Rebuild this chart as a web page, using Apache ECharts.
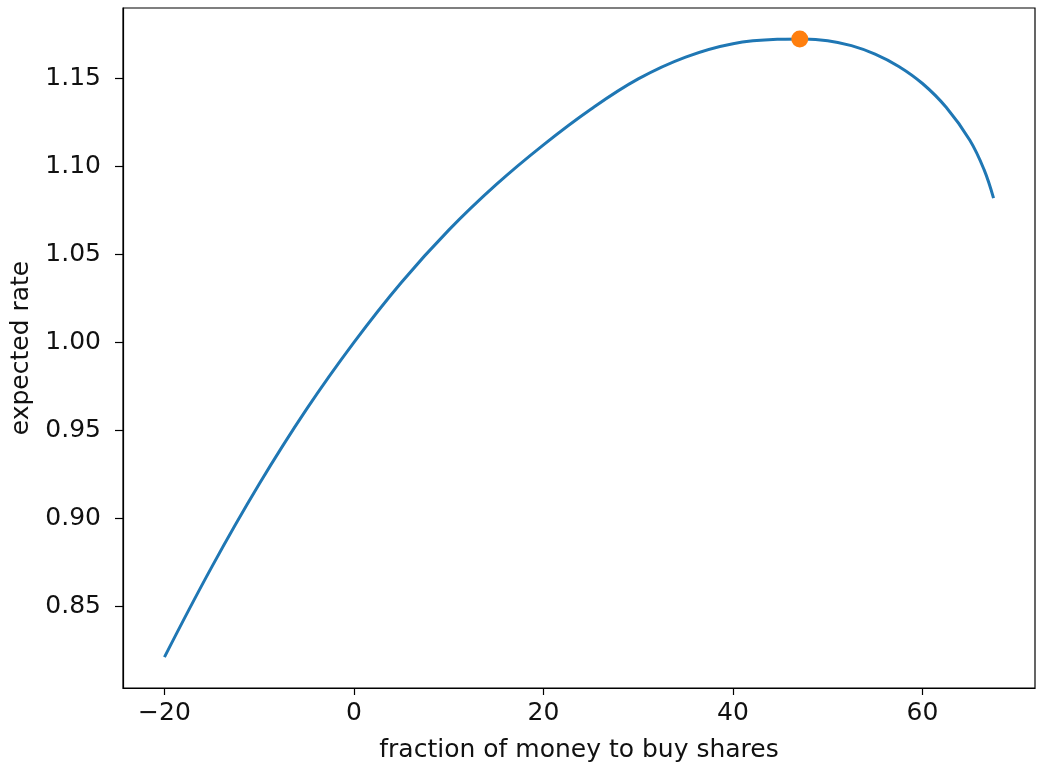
<!DOCTYPE html>
<html>
<head>
<meta charset="utf-8">
<script src="https://cdn.jsdelivr.net/npm/echarts@6/dist/echarts.min.js"></script>
<style>
  html, body { margin: 0; padding: 0; background: #fff; }
  #chart { width: 1042px; height: 768px; }
</style>
</head>
<body>
<div id="chart"></div>
<script>
// Expected growth rate as a function of the share of money put into stock (%)
const fractionPct = [
  -20, -15, -10, -5, 0, 5, 10, 15, 20, 25, 30, 35, 40, 45,
  47.5, 50, 52.5, 55, 57.5, 60, 62.5, 65, 66.5, 67.5
];
const expectedRate = [
  0.8214, 0.8726, 0.9196, 0.9621, 1.0000, 1.0340, 1.0637, 1.0895, 1.1121, 1.1323,
  1.1495, 1.1619, 1.1695, 1.1720,
  1.1722, 1.1712, 1.1684, 1.1636, 1.1566, 1.1469, 1.1334, 1.1147, 1.0980, 1.0818
];
// Best fraction (maximum of the curve)
const optimumPct = [47.05];
const optimumRate = [1.1722];

const xTicks = [-20, 0, 20, 40, 60];
const yTicks = [0.85, 0.90, 0.95, 1.00, 1.05, 1.10, 1.15];

// 5% padding around the data extent on both axes
function padded(arr) {
  const lo = Math.min(...arr), hi = Math.max(...arr), m = (hi - lo) * 0.05;
  return [lo - m, hi + m];
}
const [xMin, xMax] = padded(fractionPct);
const [yMin, yMax] = padded(expectedRate);

const FONT = 'DejaVu Sans';
const FS = 25;
const INK = '#111';

const chart = echarts.init(document.getElementById('chart'), null, { renderer: 'canvas' });
chart.setOption({
  animation: false,
  backgroundColor: '#fff',
  grid: {
    left: 123, right: 7, top: 8, bottom: 80,
    show: true, borderColor: '#000', borderWidth: 1.2, backgroundColor: 'transparent'
  },
  xAxis: {
    type: 'value',
    min: xMin, max: xMax,
    name: 'fraction of money to buy shares',
    nameLocation: 'middle',
    nameGap: 50,
    nameTextStyle: { fontFamily: FONT, fontSize: FS, color: INK },
    axisLine: { show: true, onZero: false, lineStyle: { color: '#000', width: 1.2 } },
    axisTick: { show: true, length: 7, customValues: xTicks, lineStyle: { color: '#000', width: 1.2 } },
    axisLabel: {
      customValues: xTicks, margin: 13,
      fontFamily: FONT, fontSize: FS, color: INK,
      formatter: v => (v < 0 ? '\u2212' + Math.abs(v) : String(v))
    },
    splitLine: { show: false }
  },
  yAxis: {
    type: 'value',
    min: yMin, max: yMax,
    name: 'expected rate',
    nameLocation: 'middle',
    nameGap: 87,
    nameRotate: 90,
    nameTextStyle: { fontFamily: FONT, fontSize: FS, color: INK },
    axisLine: { show: true, onZero: false, lineStyle: { color: '#000', width: 1.2 } },
    axisTick: { show: true, length: 8, customValues: yTicks, lineStyle: { color: '#000', width: 1.2 } },
    axisLabel: {
      customValues: yTicks, margin: 22,
      fontFamily: FONT, fontSize: FS, color: INK,
      formatter: v => v.toFixed(2)
    },
    splitLine: { show: false }
  },
  series: [
    {
      type: 'line',
      data: fractionPct.map((x, i) => [x, expectedRate[i]]),
      smooth: 0.4,
      showSymbol: false,
      lineStyle: { color: '#1f77b4', width: 3 },
      z: 2
    },
    {
      type: 'scatter',
      data: optimumPct.map((x, i) => [x, optimumRate[i]]),
      symbol: 'circle',
      symbolSize: 17,
      itemStyle: { color: '#ff7f0e', opacity: 1 },
      z: 3
    }
  ]
});
</script>
</body>
</html>
